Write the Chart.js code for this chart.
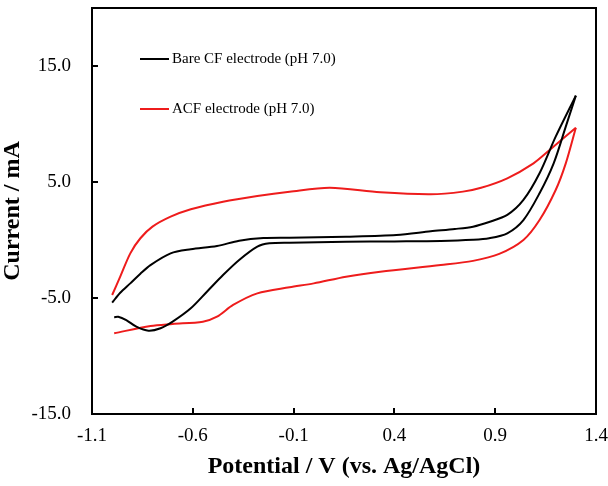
<!DOCTYPE html>
<html>
<head>
<meta charset="utf-8">
<script src="https://cdn.jsdelivr.net/npm/chart.js@4"></script>
<style>
  html, body { margin: 0; padding: 0; background: #fff; }
  canvas { display: block; }
</style>
</head>
<body>
<canvas id="cvChart" width="608" height="486"></canvas>
<script>
// potential (V) and current (mA)
const bareFwdV = [-1.00, -0.96, -0.91, -0.86, -0.81, -0.71, -0.61, -0.48, -0.37, -0.25, -0.12, 0.16, 0.41, 0.58, 0.70, 0.79, 0.87, 0.96, 1.04, 1.12, 1.20, 1.30];
const bareFwdI = [-5.40, -4.55, -3.74, -2.90, -2.16, -1.15, -0.80, -0.52, -0.06, 0.17, 0.20, 0.29, 0.43, 0.75, 0.95, 1.15, 1.55, 2.16, 3.45, 5.75, 8.91, 12.45];
const bareRevV = [1.30, 1.25, 1.19, 1.12, 1.04, 0.96, 0.87, 0.79, 0.63, 0.40, 0.16, -0.12, -0.22, -0.28, -0.37, -0.45, -0.53, -0.61, -0.70, -0.76, -0.82, -0.88, -0.93, -0.97, -0.99];
const bareRevI = [12.45, 9.77, 6.61, 4.03, 1.72, 0.58, 0.15, 0.02, -0.08, -0.12, -0.15, -0.23, -0.28, -0.57, -1.72, -3.02, -4.46, -5.89, -7.04, -7.61, -7.82, -7.47, -6.90, -6.61, -6.67];

const acfFwdV = [-1.00, -0.96, -0.91, -0.86, -0.80, -0.71, -0.61, -0.45, -0.28, -0.12, 0.08, 0.33, 0.58, 0.74, 0.83, 0.96, 1.09, 1.17, 1.30];
const acfFwdI = [-4.74, -3.16, -1.15, 0.15, 1.15, 2.01, 2.65, 3.30, 3.79, 4.16, 4.51, 4.11, 3.94, 4.17, 4.50, 5.32, 6.61, 7.76, 9.68];
const acfRevV = [1.30, 1.25, 1.20, 1.12, 1.04, 0.92, 0.79, 0.63, 0.33, 0.16, 0.00, -0.12, -0.28, -0.40, -0.48, -0.55, -0.70, -0.81, -0.99];
const acfRevI = [9.68, 6.61, 4.31, 1.72, 0.00, -1.20, -1.80, -2.16, -2.73, -3.16, -3.74, -4.08, -4.60, -5.60, -6.61, -7.04, -7.24, -7.41, -8.04];

const seriesLabels = ["Bare CF electrode (pH 7.0)", "ACF electrode (pH 7.0)"];
const seriesColors = ["#000000", "#ee1c1c"];

const xTicks = [-1.1, -0.6, -0.1, 0.4, 0.9, 1.4];
const yTicks = [-15, -5, 5, 15];

function toPoints(xs, ys) {
    return xs.map((x, i) => ({ x: x, y: ys[i] }));
}

function branch(xs, ys, color) {
    return {
        data: toPoints(xs, ys),
        showLine: true,
        borderColor: color,
        borderWidth: 2,
        pointRadius: 0,
        tension: 0.3,
        fill: false
    };
}

// keep the plot box where the reference has it
function noOverhang(s) {
    s.paddingTop = 0;
    s.paddingBottom = 0;
    s.paddingLeft = 0;
    s.paddingRight = 0;
}

// box around the plot, ticks pointing inwards, legend inside the plot
const framePlugin = {
    id: "frame",
    afterDraw(chart) {
        const ctx = chart.ctx;
        const a = chart.chartArea;
        const xs = chart.scales.x;
        const ys = chart.scales.y;

        ctx.save();
        ctx.strokeStyle = "#000";
        ctx.lineWidth = 2;
        ctx.strokeRect(a.left, a.top, a.right - a.left, a.bottom - a.top);

        ctx.beginPath();
        xTicks.forEach(v => {
            const px = Math.round(xs.getPixelForValue(v));
            ctx.moveTo(px, a.bottom);
            ctx.lineTo(px, a.bottom - 6);
        });
        yTicks.forEach(v => {
            const py = Math.round(ys.getPixelForValue(v));
            ctx.moveTo(a.left, py);
            ctx.lineTo(a.left + 6, py);
        });
        ctx.stroke();

        ctx.font = "15px 'Liberation Serif', 'Times New Roman', serif";
        ctx.textBaseline = "middle";
        ctx.textAlign = "left";
        seriesLabels.forEach((label, i) => {
            const y = a.top + 51 + i * 50;
            ctx.strokeStyle = seriesColors[i];
            ctx.beginPath();
            ctx.moveTo(a.left + 48, y);
            ctx.lineTo(a.left + 77, y);
            ctx.stroke();
            ctx.fillStyle = "#000";
            ctx.fillText(label, a.left + 80, y);
        });
        ctx.restore();
    }
};

const tickFont = { family: "'Liberation Serif', 'Times New Roman', serif", size: 19 };
const titleFont = { family: "'Liberation Serif', 'Times New Roman', serif", size: 24, weight: "bold", lineHeight: 1.2 };

new Chart(document.getElementById("cvChart"), {
    type: "scatter",
    data: {
        datasets: [
            branch(bareFwdV, bareFwdI, seriesColors[0]),
            branch(bareRevV, bareRevI, seriesColors[0]),
            branch(acfFwdV, acfFwdI, seriesColors[1]),
            branch(acfRevV, acfRevI, seriesColors[1])
        ]
    },
    options: {
        responsive: false,
        animation: false,
        layout: { padding: { left: 0, right: 12, top: 8, bottom: 0 } },
        plugins: {
            legend: { display: false },
            tooltip: { enabled: false }
        },
        scales: {
            x: {
                type: "linear",
                min: -1.1,
                max: 1.4,
                afterBuildTicks: s => { s.ticks = xTicks.map(v => ({ value: v })); },
                afterFit: s => { s.height = 72; noOverhang(s); },
                grid: { display: false, drawTicks: false },
                border: { display: false },
                ticks: {
                    color: "#000",
                    font: tickFont,
                    padding: 11,
                    maxRotation: 0,
                    callback: v => v.toFixed(1)
                },
                title: {
                    display: true,
                    text: "Potential / V (vs. Ag/AgCl)",
                    color: "#000",
                    font: titleFont,
                    padding: { top: 0, bottom: 5 }
                }
            },
            y: {
                type: "linear",
                min: -15,
                max: 20,
                afterBuildTicks: s => { s.ticks = yTicks.map(v => ({ value: v })); },
                afterFit: s => { s.width = 92; noOverhang(s); },
                grid: { display: false, drawTicks: false },
                border: { display: false },
                ticks: {
                    color: "#000",
                    font: tickFont,
                    padding: 21,
                    callback: v => v.toFixed(1)
                },
                title: {
                    display: true,
                    text: "Current / mA",
                    color: "#000",
                    font: titleFont,
                    padding: { top: -2, bottom: 0 }
                }
            }
        }
    },
    plugins: [framePlugin]
});
</script>
</body>
</html>
